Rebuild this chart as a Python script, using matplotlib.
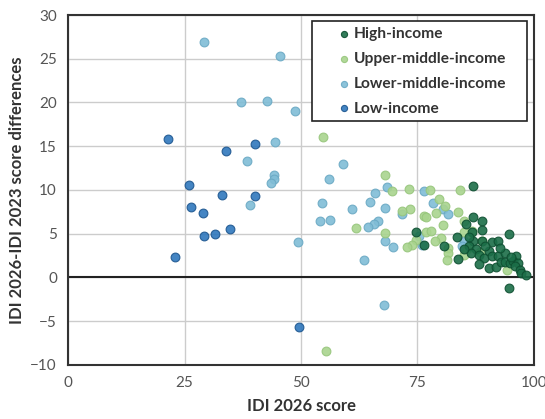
import matplotlib
matplotlib.use("Agg")
import matplotlib.pyplot as plt

plt.rcParams['font.family'] = ['Lato', 'DejaVu Sans']

# IDI 2026 score vs. change since 2023, by income group
high_x = [86.9, 86.9, 88.75, 85.5, 88.8, 86.7, 94.7, 74.7, 83.5, 76.3, 80.7, 87.0,
          88.75, 91.0, 92.3, 86.0, 87.5, 86.5, 88.3, 89.2, 90.45, 91.0, 92.2, 93.75,
          96.2, 83.75, 88.3, 90.3, 91.9, 93.0, 93.7, 94.75, 95.5, 96.5, 96.0, 96.9,
          97.2, 98.2, 94.6, 89.5, 92.8, 95.0, 86.0, 85.0]
high_y = [10.5, 6.9, 6.45, 6.1, 5.45, 5.15, 4.95, 5.2, 4.6, 3.75, 3.55, 4.2,
          4.15, 4.05, 4.15, 3.6, 3.3, 2.8, 2.6, 2.2, 3.0, 2.5, 2.4, 2.75,
          2.4, 2.1, 1.55, 1.1, 1.2, 1.8, 1.75, 1.7, 1.9, 1.7, 1.3, 0.9,
          0.55, 0.25, -1.2, 3.6, 3.4, 2.3, 4.6, 3.2]

upper_x = [54.7, 68.0, 69.45, 73.1, 77.7, 84.2, 79.6, 80.8, 83.75, 78.9, 76.4, 76.9,
           73.3, 71.7, 80.4, 84.9, 61.8, 68.0, 76.9, 77.8, 79.95, 78.8, 74.7, 73.9,
           72.8, 81.6, 81.5, 81.3, 86.65, 84.95, 88.75, 85.6, 84.9, 88.5, 94.2, 55.4]
upper_y = [16.05, 11.75, 9.9, 10.1, 10.0, 10.05, 9.0, 8.2, 7.5, 7.35, 7.0, 6.9,
           7.85, 7.55, 6.0, 6.45, 5.65, 5.1, 5.15, 5.35, 4.5, 4.15, 4.3, 3.75,
           3.45, 3.4, 2.75, 2.0, 5.3, 5.2, 4.2, 3.25, 2.6, 2.9, 0.9, -8.45]

lower_x = [29.2, 45.5, 37.2, 42.7, 48.7, 44.4, 38.4, 44.2, 44.1, 43.5, 39.1, 49.45,
           58.95, 56.0, 65.9, 68.4, 54.4, 64.9, 60.95, 67.95, 71.6, 54.1, 56.3, 66.45,
           65.7, 64.45, 68.0, 69.8, 63.5, 67.9, 76.3, 78.4, 80.45, 81.5, 75.3, 76.0,
           85.0, 84.6]
lower_y = [26.9, 25.3, 20.1, 20.15, 19.0, 15.5, 13.3, 11.7, 11.3, 10.8, 8.25, 4.07,
           13.0, 11.2, 9.7, 10.3, 8.5, 8.65, 7.8, 7.9, 7.25, 6.5, 6.55, 6.4,
           6.15, 5.8, 4.2, 3.45, 2.0, -3.15, 9.9, 8.55, 7.85, 7.2, 4.7, 3.7,
           4.2, 3.65]

low_x = [21.5, 40.15, 33.9, 25.9, 33.1, 40.15, 26.5, 28.9, 29.2, 31.6, 34.8, 23.0, 49.5]
low_y = [15.85, 15.3, 14.4, 10.6, 9.4, 9.35, 8.1, 7.4, 4.75, 5.0, 5.55, 2.3, -5.65]

groups = [
    ('High-income', high_x, high_y, '#1b6e48', '#0e4f31'),
    ('Upper-middle-income', upper_x, upper_y, '#a9d48e', '#97c67c'),
    ('Lower-middle-income', lower_x, lower_y, '#80bdd6', '#6aa9c4'),
    ('Low-income', low_x, low_y, '#2f78bd', '#1d568f'),
]

fig = plt.figure(figsize=(5.45, 4.19), dpi=100)
ax = fig.add_axes([0.1248, 0.1289, 0.855, 0.8353])

ax.set_axisbelow(True)
ax.grid(True, color='#cccccc', linewidth=1.0)
ax.axhline(0, color='#222222', linewidth=1.5, zorder=1)

# low-income drawn first so the dense high-income cluster sits on top
for label, xs, ys, face, edge in reversed(groups):
    ax.scatter(xs, ys, s=40, color=face, edgecolors=edge, linewidths=0.8,
               alpha=0.9, label=label, zorder=3)

ax.set_xlim(0, 100)
ax.set_ylim(-10, 30)
ax.set_xticks([0, 25, 50, 75, 100])
ax.set_yticks(range(-10, 31, 5))
ax.tick_params(length=0, labelsize=11, labelcolor='#555555', pad=8)
for s in ax.spines.values():
    s.set_color('#333333')
    s.set_linewidth(1.5)

ax.set_xlabel('IDI 2026 score', fontsize=12, fontweight='bold', color='#333333', labelpad=6)
ax.set_ylabel('IDI 2026-IDI 2023 score differences', fontsize=12, fontweight='bold',
              color='#333333', labelpad=4)

handles, labels = ax.get_legend_handles_labels()
leg = ax.legend(handles[::-1], labels[::-1], loc='upper left',
                bbox_to_anchor=(0.5236, 0.5, 0.4614, 0.483), mode='expand',
                borderaxespad=0, fancybox=False, framealpha=1, edgecolor='#222222',
                markerscale=0.7, handlelength=3.4, handletextpad=-1.1, borderpad=0.38,
                labelspacing=0.7, prop={'size': 11.2, 'weight': 'bold'})
leg.get_frame().set_linewidth(1.2)
for t in leg.get_texts():
    t.set_color('#333333')

fig.savefig('out.png', dpi=100)
